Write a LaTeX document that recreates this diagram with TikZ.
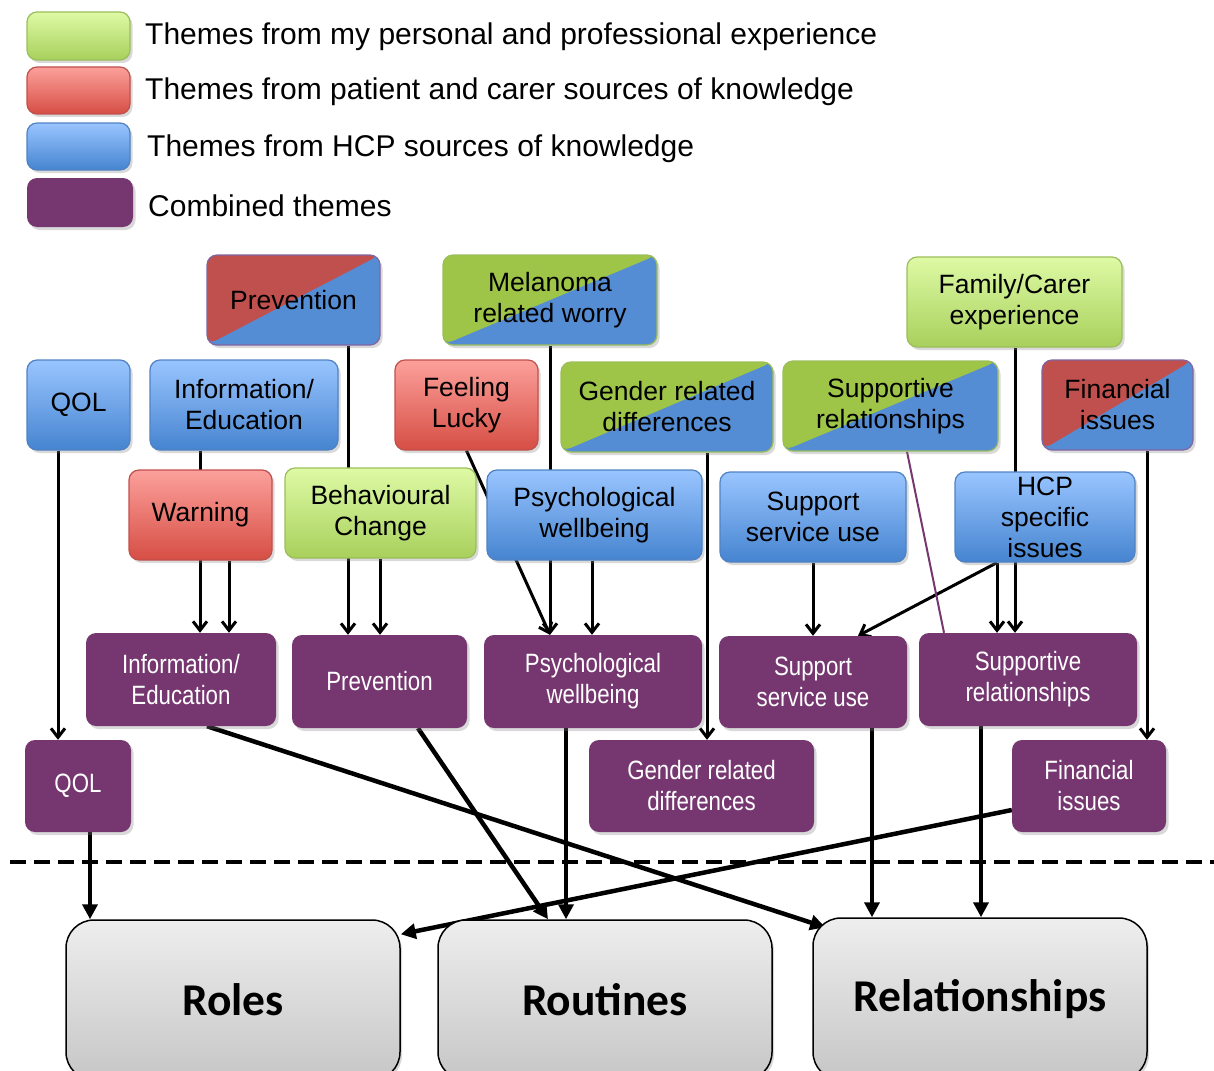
\documentclass[tikz,border=0pt]{standalone}
\usepackage{fontspec}
\setmainfont{Liberation Sans}
\newfontfamily\narrowsans[FakeStretch=0.84]{Liberation Sans}
\newfontfamily\calfont{Carlito}
\usetikzlibrary{arrows.meta,shadows,backgrounds}

\definecolor{expTop}{RGB}{222,250,165}
\definecolor{expBot}{RGB}{168,208,92}
\definecolor{expLine}{RGB}{155,190,90}
\definecolor{patTop}{RGB}{252,160,155}
\definecolor{patBot}{RGB}{214,78,68}
\definecolor{patLine}{RGB}{192,80,77}
\definecolor{hcpTop}{RGB}{153,197,255}
\definecolor{hcpBot}{RGB}{70,132,208}
\definecolor{hcpLine}{RGB}{80,130,195}
\definecolor{combFill}{RGB}{118,55,113}
\definecolor{halfRed}{RGB}{192,80,77}
\definecolor{halfBlue}{RGB}{85,141,213}
\definecolor{halfGreen}{RGB}{158,197,72}
\definecolor{halfLine}{RGB}{128,100,162}
\definecolor{outTop}{RGB}{238,238,238}
\definecolor{outBot}{RGB}{198,198,198}

\tikzset{
  dims/.style 2 args={minimum width=#1, minimum height=#2},
  theme/.style={rounded corners=10pt, align=center, inner sep=0pt,
    font=\fontsize{26.5}{31}\selectfont,
    drop shadow={shadow xshift=2.5pt, shadow yshift=-3pt, opacity=0.3}},
  expbox/.style={theme, draw=expLine, line width=1.2pt, top color=expTop, bottom color=expBot},
  patbox/.style={theme, draw=patLine, line width=1.2pt, top color=patTop, bottom color=patBot},
  hcpbox/.style={theme, draw=hcpLine, line width=1.2pt, top color=hcpTop, bottom color=hcpBot},
  halfbox/.style 2 args={theme, draw=#2, line width=1.2pt, fill=halfBlue,
    path picture={\fill[#1] (path picture bounding box.south west)
      -- (path picture bounding box.north east)
      -- (path picture bounding box.north west) -- cycle;}},
  combbox/.style={theme, fill=combFill, text=white,
    font=\narrowsans\fontsize{26.5}{31}\selectfont},
  outbox/.style={rounded corners=28pt, draw=black, line width=1.5pt,
    top color=outTop, bottom color=outBot,
    font=\calfont\bfseries\fontsize{45.5}{50}\selectfont,
    drop shadow={shadow xshift=2pt, shadow yshift=-3pt, opacity=0.3}},
  legtext/.style={anchor=west, inner sep=0pt, font=\fontsize{30}{36}\selectfont},
  feed/.style={line width=3pt, -{Straight Barb[length=9pt,width=14pt]}},
  link/.style={line width=4.5pt, -{Triangle[length=15pt,width=15pt]}},
}

\begin{document}
\begin{tikzpicture}[x=1pt,y=-1pt]
  \useasboundingbox (0,0) rectangle (1214,1070);
  \clip (0,0) rectangle (1214,1070);
  % Leyenda
  \node[expbox, dims={103pt}{48pt}] (legExp) at (78.5,36) {};
  \node[legtext] (legExpTxt) at (145,37) {Themes from my personal and professional experience};
  \node[patbox, dims={103pt}{47pt}] (legPat) at (78.5,90.5) {};
  \node[legtext] (legPatTxt) at (145,92) {Themes from patient and carer sources of knowledge};
  \node[hcpbox, dims={103pt}{47pt}] (legHcp) at (78.5,146.5) {};
  \node[legtext] (legHcpTxt) at (147,149) {Themes from HCP sources of knowledge};
  \node[combbox, dims={106pt}{49pt}] (legComb) at (80,202.5) {};
  \node[legtext] (legCombTxt) at (148,206) {Combined themes};

  % Temas de origen
  \node[halfbox={halfRed}{halfLine}, dims={173pt}{90pt}] (prevS) at (293.5,300) {Prevention};
  \node[halfbox={halfGreen}{expLine}, dims={214pt}{90pt}] (worryS) at (550,300) {Melanoma\\related worry};
  \node[expbox, dims={215pt}{90pt}] (familyS) at (1014.5,302) {Family/Carer\\experience};
  \node[hcpbox, dims={103pt}{90pt}] (qolS) at (78.5,405) {QOL};
  \node[hcpbox, dims={188pt}{90pt}] (infoS) at (244,405) {Information/\\Education};
  \node[patbox, dims={143pt}{90pt}] (luckyS) at (466.5,405) {Feeling\\Lucky};
  \node[halfbox={halfGreen}{expLine}, dims={212pt}{90pt}] (genderS) at (667,407) {Gender related\\differences};
  \node[halfbox={halfGreen}{expLine}, dims={215pt}{90pt}] (suppRelS) at (890.5,406) {Supportive\\relationships};
  \node[halfbox={halfRed}{halfLine}, dims={151pt}{90pt}] (finS) at (1117.5,405) {Financial\\issues};
  \node[patbox, dims={143pt}{90pt}] (warnS) at (200.5,515) {Warning};
  \node[expbox, dims={191pt}{90pt}] (behavS) at (380.5,513) {Behavioural\\Change};
  \node[hcpbox, dims={215pt}{90pt}] (psychS) at (594.5,515) {Psychological\\wellbeing};
  \node[hcpbox, dims={186pt}{90pt}] (servS) at (813,517) {Support\\service use};
  \node[hcpbox, dims={180pt}{90pt}] (hcpS) at (1045,517) {HCP\\specific\\issues};

  % Temas combinados
  \node[combbox, dims={190pt}{93pt}] (infoC) at (181,679.5) {Information/\\Education};
  \node[combbox, dims={175pt}{93pt}] (prevC) at (379.5,681.5) {Prevention};
  \node[combbox, dims={218pt}{93pt}] (psychC) at (593,681.5) {Psychological\\wellbeing};
  \node[combbox, dims={188pt}{92pt}] (servC) at (813,682) {Support\\service use};
  \node[combbox, dims={218pt}{93pt}] (suppRelC) at (1028,679.5) {Supportive\\relationships};
  \node[combbox, dims={106pt}{92pt}] (qolC) at (78,786) {QOL};
  \node[combbox, dims={225pt}{92pt}] (genderC) at (701.5,786) {Gender related\\differences};
  \node[combbox, dims={154pt}{92pt}] (finC) at (1089,786) {Financial\\issues};

  % Dominios
  \node[outbox, dims={334pt}{160pt}] (roles) at (233,1000) {Roles};
  \node[outbox, dims={334pt}{160pt}] (routines) at (605,1000) {Routines};
  \node[outbox, dims={334pt}{162pt}] (relations) at (980,999) {Relationships};

  % Flechas
  \begin{scope}[on background layer]
    \draw[feed] (qolS.south -| 58,0) -- (qolC.north -| 58,0);
    \draw[feed] (infoS.south -| 200,0) -- (infoC.north -| 200,0);
    \draw[feed] (warnS.south -| 229,0) -- (infoC.north -| 229,0);
    \draw[feed] (prevS.south -| 348,0) -- (prevC.north -| 348,0);
    \draw[feed] (behavS.south -| 380,0) -- (prevC.north -| 380,0);
    \draw[feed] (luckyS.south) -- (psychC.north -| 550,0);
    \draw[feed] (worryS.south -| 550,0) -- (psychC.north -| 550,0);
    \draw[feed] (psychS.south -| 592,0) -- (psychC.north -| 592,0);
    \draw[feed] (genderS.south -| 707,0) -- (genderC.north -| 707,0);
    \draw[feed] (servS.south) -- (servC.north);
    \draw[feed] (hcpS.south -| 997,0) -- (servC.north -| 858,0);
    \draw[feed] (hcpS.south -| 997,0) -- (suppRelC.north -| 997,0);
    \draw[feed] (familyS.south -| 1015,0) -- (suppRelC.north -| 1015,0);
    \draw[combFill, line width=2pt] (suppRelS.south -| 907,0) -- (suppRelC.north -| 944,0);
    \draw[feed] (finS.south -| 1147,0) -- (finC.north -| 1147,0);

    \draw[link] (qolC.south -| 90,0) -- (roles.north -| 90,0);
    \draw[link] (infoC.south -| 207,0) -- ([shift={(13,10)}]relations.north west);
    \draw[link] (prevC.south -| 418,0) -- (routines.north -| 548,0);
    \draw[link] (psychC.south -| 566,0) -- (routines.north -| 566,0);
    \draw[link] ([yshift=-24pt]finC.west) -- ([yshift=-15pt]roles.north east);
    \draw[link] (servC.south -| 872,0) -- (relations.north -| 872,0);
    \draw[link] (suppRelC.south -| 981,0) -- (relations.north -| 981,0);
  \end{scope}

  % Linea divisoria
  \draw[line width=4pt, dash pattern=on 16pt off 8pt] (10,862) -- (1214,862);
\end{tikzpicture}
\end{document}
